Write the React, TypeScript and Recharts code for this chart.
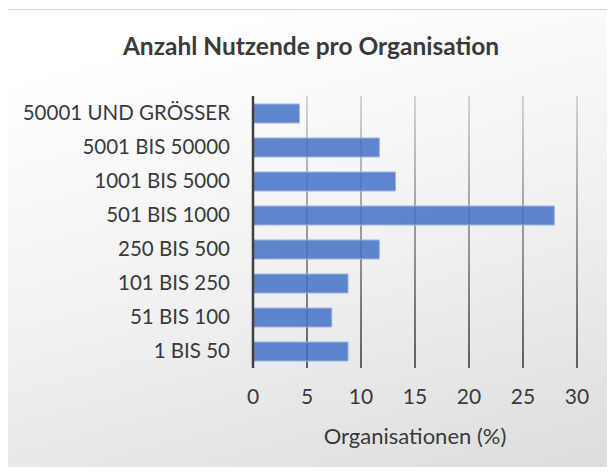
import { BarChart, Bar, XAxis, YAxis, CartesianGrid, Label } from "recharts";

// Nutzende pro Organisation, share of organisations in %
const categories = [
  "50001 UND GRÖSSER",
  "5001 BIS 50000",
  "1001 BIS 5000",
  "501 BIS 1000",
  "250 BIS 500",
  "101 BIS 250",
  "51 BIS 100",
  "1 BIS 50",
];
const shares = [4.3, 11.7, 13.2, 27.9, 11.7, 8.8, 7.3, 8.8];
const xTicks = [0, 5, 10, 15, 20, 25, 30];

const data = categories.map((name, i) => ({ name, value: shares[i] }));

const FONT = "Lato, 'Open Sans', sans-serif";

export default function App() {
  return (
    <div
      style={{
        position: "relative",
        width: 615,
        height: 475,
        margin: -8,
        overflow: "hidden",
        fontFamily: FONT,
      }}
    >
      {/* chart frame */}
      <div
        style={{
          position: "absolute",
          left: 4,
          top: 9,
          width: 640,
          height: 500,
          border: "1px solid #d4d4d4",
          background: "linear-gradient(165deg, #ffffff 10%, #f1f1f1 50%, #d9d9d9 100%)",
        }}
      />
      <div
        style={{
          position: "absolute",
          left: 0,
          top: 34,
          width: 622,
          textAlign: "center",
          fontSize: 24.5,
          lineHeight: "24px",
          fontWeight: 700,
          color: "#3a3a3a",
        }}
      >
        Anzahl Nutzende pro Organisation
      </div>
      <div style={{ position: "absolute", left: 0, top: 0 }}>
        <BarChart
          width={615}
          height={475}
          data={data}
          layout="vertical"
          margin={{ top: 96, right: 38, bottom: 31, left: 3 }}
        >
          <defs>
            <linearGradient id="gridFade" gradientUnits="userSpaceOnUse" x1="0" y1="96" x2="0" y2="368">
              <stop offset="0%" stopColor="#c4c4c4" />
              <stop offset="100%" stopColor="#262626" />
            </linearGradient>
          </defs>
          <CartesianGrid horizontal={false} stroke="url(#gridFade)" strokeWidth={1.4} />
          <XAxis
            type="number"
            domain={[0, 30]}
            ticks={xTicks}
            axisLine={false}
            tickLine={false}
            tickMargin={15}
            height={76}
            tick={{ fontSize: 21, fill: "#3a3a3a", fontFamily: FONT }}
          >
            <Label
              value="Organisationen (%)"
              position="insideBottom"
              offset={0}
              style={{ fontSize: 22, fill: "#3a3a3a", fontFamily: FONT }}
            />
          </XAxis>
          <YAxis
            type="category"
            dataKey="name"
            width={250}
            tickLine={false}
            axisLine={{ stroke: "#404040", strokeWidth: 2.5 }}
            tickMargin={17}
            interval={0}
            tick={{ fontSize: 20.5, fill: "#3a3a3a", fontFamily: FONT }}
          />
          <Bar
            dataKey="value"
            barSize={19}
            fill="#4472c4"
            fillOpacity={0.85}
            stroke="#9db4e0"
            strokeWidth={1}
            isAnimationActive={false}
          />
        </BarChart>
      </div>
    </div>
  );
}
